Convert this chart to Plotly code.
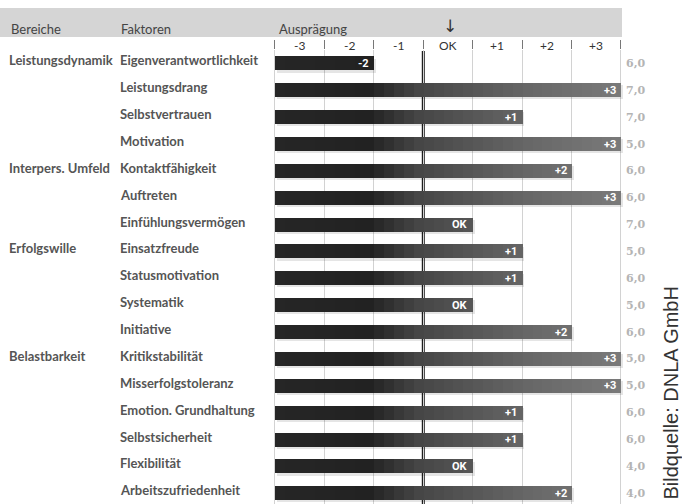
import plotly.graph_objects as go

W, H = 682, 504

# --- data -------------------------------------------------------------
bereiche = ["Leistungsdynamik", "", "", "", "Interpers. Umfeld", "", "",
            "Erfolgswille", "", "", "", "Belastbarkeit", "", "", "", "", ""]
faktoren = ["Eigenverantwortlichkeit", "Leistungsdrang", "Selbstvertrauen",
            "Motivation", "Kontaktfähigkeit", "Auftreten", "Einfühlungsvermögen",
            "Einsatzfreude", "Statusmotivation", "Systematik", "Initiative",
            "Kritikstabilität", "Misserfolgstoleranz", "Emotion. Grundhaltung",
            "Selbstsicherheit", "Flexibilität", "Arbeitszufriedenheit"]
auspraegung = [-2, 3, 1, 3, 2, 3, 0, 1, 1, 0, 2, 3, 3, 1, 1, 0, 2]
werte = ["6,0", "7,0", "7,0", "5,0", "6,0", "6,0", "7,0", "5,0", "6,0",
         "5,0", "6,0", "5,0", "5,0", "6,0", "6,0", "4,0", "4,0"]
skala = [-3, -2, -1, 0, 1, 2, 3]
skala_text = ["-3", "-2", "-1", "OK", "+1", "+2", "+3"]

# --- geometry helpers ---------------------------------------------------
def px_x(p):
    return p / W

def px_y(p):
    return 1 - p / H

rows = list(range(len(faktoren)))
x_lo, x_hi = -3.5, 3.5            # outer edges of the scale columns
ends = [v + 0.5 for v in auspraegung]   # bar reaches right edge of its column
labels = ["OK" if v == 0 else f"{v:+d}" for v in auspraegung]
bar_w = 0.52

fig = go.Figure()

# soft drop shadow under every bar
fig.add_trace(go.Bar(
    y=rows, x=[e - x_lo for e in ends], base=x_lo + 0.03, orientation="h",
    width=bar_w, offset=-bar_w / 2 + 0.08,
    marker=dict(color="rgba(0,0,0,0.10)", line=dict(width=0)),
    hoverinfo="skip", showlegend=False))

# horizontal grey gradient, built from thin slices of each bar
stops = [(-3.5, 0x26), (-1.6, 0x22), (-0.6, 0x46), (1.5, 0x66), (3.5, 0x7a)]

def shade(pos):
    for (p0, g0), (p1, g1) in zip(stops, stops[1:]):
        if pos <= p1:
            t = (pos - p0) / (p1 - p0)
            g = round(g0 + t * (g1 - g0))
            return f"rgb({g},{g},{g})"
    g = stops[-1][1]
    return f"rgb({g},{g},{g})"

n_slices = 35
step = (x_hi - x_lo) / n_slices
for k in range(n_slices):
    s0 = x_lo + k * step
    s1 = s0 + step
    lengths = [max(0.0, min(e, s1) - s0) for e in ends]
    fig.add_trace(go.Bar(
        y=rows, x=lengths, base=s0, orientation="h", width=bar_w,
        marker=dict(color=shade(s0 + step / 2), line=dict(width=0)),
        hoverinfo="skip", showlegend=False))

# --- axes -------------------------------------------------------------
col_px = 346 / 7
fig.update_layout(
    width=W, height=H, margin=dict(l=0, r=0, t=0, b=0),
    paper_bgcolor="white", plot_bgcolor="white", barmode="overlay",
    bargap=0, showlegend=False,
    xaxis=dict(range=[-3.55, 3.55],
               domain=[px_x(275 - 0.05 * col_px), px_x(621 + 0.05 * col_px)],
               side="top", tickvals=[x_lo + i for i in range(8)],
               showticklabels=False, ticks="outside", ticklen=9,
               tickcolor="#777", tickwidth=1,
               showgrid=True, gridcolor="#d2d2d2", gridwidth=1,
               zeroline=False, showline=False, fixedrange=True),
    yaxis=dict(range=[16.4, -0.5], domain=[0, px_y(50)],
               showticklabels=False, showgrid=False, zeroline=False,
               ticks="", fixedrange=True),
)

shapes = [
    # grey header band
    dict(type="rect", xref="paper", yref="paper", x0=0, x1=px_x(622),
         y0=px_y(37), y1=px_y(8), fillcolor="#d5d5d5",
         line=dict(width=0), layer="below"),
    # dark reference line at the OK boundary
    dict(type="line", xref="x", yref="paper", x0=-0.5, x1=-0.5,
         y0=0, y1=px_y(51), line=dict(color="#1e1e1e", width=3),
         layer="between"),
]
fig.update_layout(shapes=shapes)

ann = []
head_font = dict(family="Lato", size=13, color="#444")
for txt, xp in [("Bereiche", 9), ("Faktoren", 119), ("Ausprägung", 277)]:
    ann.append(dict(text=txt, xref="paper", yref="paper", x=px_x(xp),
                    y=px_y(29), xanchor="left", yanchor="middle",
                    showarrow=False, font=head_font))
ann.append(dict(text="↓", xref="x", yref="paper", x=0.05, y=px_y(26),
                xanchor="center", yanchor="middle", showarrow=False,
                font=dict(family="DejaVu Sans", size=17, color="#333")))
for v, t in zip(skala, skala_text):
    ann.append(dict(text=t, xref="x", yref="paper", x=v, y=px_y(45),
                    xanchor="center", yanchor="middle", showarrow=False,
                    font=dict(family="Lato", size=12, color="#333")))

# value tags at the bar ends
for r, e, t in zip(rows, ends, labels):
    ann.append(dict(text=f"<b>{t}</b>", xref="x", yref="y", x=e, y=r,
                    xanchor="right", yanchor="middle", xshift=-3,
                    showarrow=False,
                    font=dict(family="Roboto", size=11, color="white")))

lab_font = dict(family="Lato", size=13, color="#555")
for r, b, f, w in zip(rows, bereiche, faktoren, werte):
    if b:
        ann.append(dict(text=f"<b>{b}</b>", xref="paper", yref="y",
                        x=px_x(7), y=r, yshift=3, xanchor="left",
                        yanchor="middle", showarrow=False, font=lab_font))
    ann.append(dict(text=f"<b>{f}</b>", xref="paper", yref="y",
                    x=px_x(118), y=r, yshift=3, xanchor="left",
                    yanchor="middle", showarrow=False, font=lab_font))
    ann.append(dict(text=f"<b>{w}</b>", xref="paper", yref="y",
                    x=px_x(624), y=r, xanchor="left", yanchor="middle",
                    showarrow=False,
                    font=dict(family="DejaVu Serif", size=11,
                              color="#b4b4b4")))

ann.append(dict(text="Bildquelle: DNLA GmbH", xref="paper", yref="paper",
                x=px_x(670), y=px_y(502), xanchor="center", yanchor="bottom",
                textangle=-90, showarrow=False,
                font=dict(family="Liberation Sans", size=20, color="#333")))
fig.update_layout(annotations=ann)

fig.write_html("out.html")
